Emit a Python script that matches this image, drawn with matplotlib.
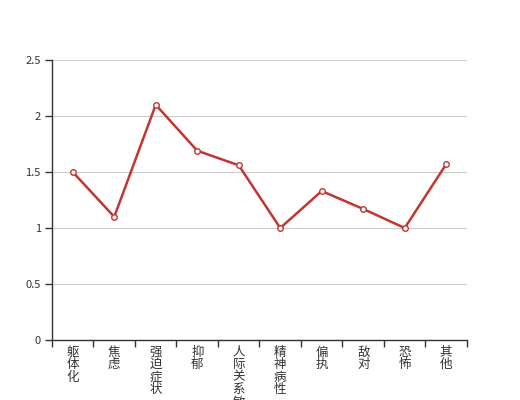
import matplotlib
matplotlib.use("Agg")
import matplotlib.pyplot as plt
import numpy as np

plt.rcParams['font.family'] = ['Noto Sans CJK SC', 'DejaVu Sans']

categories = ["躯体化", "焦虑", "强迫症状", "抑郁", "人际关系敏感",
              "精神病性", "偏执", "敌对", "恐怖", "其他"]
values = [1.5, 1.1, 2.1, 1.69, 1.56, 1.0, 1.33, 1.17, 1.0, 1.57]
yticks = [0, 0.5, 1, 1.5, 2, 2.5]
ytick_labels = ["0", "0.5", "1", "1.5", "2", "2.5"]

fig = plt.figure(figsize=(5.2, 4.0), dpi=100)
ax = fig.add_axes([0.1, 0.15, 0.798, 0.70])

x = np.arange(len(categories))
ax.plot(x, values, color="#c23531", linewidth=1.8, marker="o",
        markersize=4, markerfacecolor="white", markeredgecolor="#c23531",
        markeredgewidth=1, zorder=3)

ax.set_xlim(-0.5, len(categories) - 0.5)
ax.set_ylim(0, 2.5)
ax.set_yticks(yticks)
ax.set_yticklabels(ytick_labels)
ax.yaxis.grid(True, color="#cccccc", linewidth=0.8)
ax.set_axisbelow(True)

ax.set_xticks(np.arange(len(categories) + 1) - 0.5)
ax.set_xticklabels([])
ax.set_xticks(x, minor=True)
ax.set_xticklabels(["\n".join(c) for c in categories], minor=True,
                   fontsize=9, color="#333333", linespacing=0.95, va="top")
ax.tick_params(axis="x", which="minor", length=0, pad=4)
ax.tick_params(axis="x", which="major", length=5, width=1, color="#333333")
ax.tick_params(axis="y", length=5, width=1, color="#333333",
               labelsize=8, labelcolor="#333333", pad=3)

for s in ["top", "right"]:
    ax.spines[s].set_visible(False)
for s in ["left", "bottom"]:
    ax.spines[s].set_color("#333333")
    ax.spines[s].set_linewidth(1)

fig.savefig("out.png", dpi=100)
